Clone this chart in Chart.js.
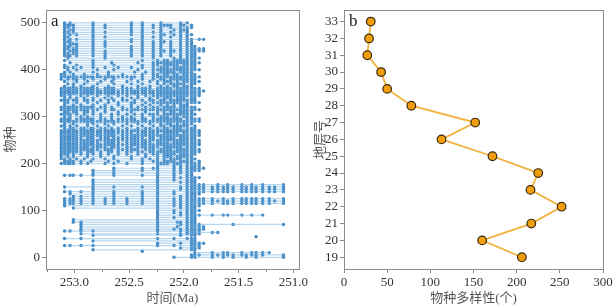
<!DOCTYPE html>
<html>
<head>
<meta charset="utf-8">
<script src="https://cdn.jsdelivr.net/npm/chart.js@4.4.0/dist/chart.umd.min.js"></script>
<style>
    html, body { margin: 0; padding: 0; background: #fff; }
    #wrap { position: relative; width: 615px; height: 306px; }
    .panel { position: absolute; top: 0; }
    #pa { left: 0; }
    #pb { left: 310px; }
</style>
</head>
<body>
<div id="wrap">
    <div class="panel" id="pa"><canvas id="range-chart" width="310" height="306"></canvas></div>
    <div class="panel" id="pb"><canvas id="diversity-chart" width="305" height="306"></canvas></div>
</div>
<script>
"use strict";

//=> Panel a: sampled horizons (Ma, old -> young)
var horizons = [
    253.12, 253.09, 253.06, 253.04, 253.01, 252.98, 252.94, 252.91, 252.88, 252.85,
    252.83, 252.79, 252.76, 252.72, 252.69, 252.66, 252.64, 252.60, 252.56, 252.52,
    252.48, 252.45, 252.42, 252.38, 252.35, 252.31, 252.28, 252.24, 252.21, 252.18,
    252.15, 252.12, 252.09, 252.06, 252.03, 252.00, 251.97, 251.93, 251.90, 251.86,
    251.82, 251.74, 251.69, 251.64, 251.60, 251.55, 251.47, 251.43, 251.38, 251.34,
    251.28, 251.22, 251.17, 251.09
];

//=> Panel a: species number of each row
var speciesRows = [
    0, 5, 10, 13, 16, 20, 25, 30, 35, 40, 44, 47, 50, 53, 56, 60, 65, 70, 75, 80,
    85, 90, 95, 100, 105, 110, 115, 120, 125, 130, 135, 140, 145, 150, 155, 160, 165, 170, 175, 180,
    185, 190, 195, 200, 205, 210, 215, 220, 225, 230, 235, 240, 245, 250, 255, 260, 265, 270, 275, 280,
    285, 290, 295, 300, 305, 310, 315, 320, 325, 330, 335, 340, 345, 350, 355, 360, 365, 370, 375, 380,
    385, 390, 395, 400, 405, 410, 415, 420, 425, 430, 435, 440, 445, 450, 455, 460, 465, 470, 475, 480,
    485, 490, 495, 500
];

//=> Panel a: occurrence of each row at each horizon (x = found)
var occurrences = [
    ".......... .......... .......... ..x....xx. .x.x.x.x.x ...x",
    ".......... .......... .......... .......xxx .xxxxxxxxx x..x",
    ".......... .......... .......... ........x. .x.xx.x.xx xx..",
    ".......... .......... ...x...... .......... .......... ....",
    ".......... x......... .......... .......xx. .......... ....",
    ".......... .......... .......... ....x..xxx .......... ....",
    ".x.x..x... x......... .......x.. ..x....xxx .......... ....",
    ".......... .......... .......x.. ....x..xxx x......... ....",
    ".......... x......... .......... .......xx. .......... ....",
    ".x....x... .......... .......x.. ..x...xxx. .......... ....",
    ".......... .......... .......... .......... .........x ....",
    ".......... x......... .......... ....x..xx. .......... ....",
    "......x... .......... .......x.. ....x.xxxx .......... ....",
    ".......... .......... .......... ......xxx. .xx....... ....",
    ".x.x..x... x......... .......x.. ....x.xxxx .......... ....",
    "......x... .......... .......x.. ..x.x.xxxx x......... ....",
    "......x... .......... .......x.. ...x..xxxx x......... ....",
    "......x... .......... .......x.. ....x.xxxx .....x.... ...x",
    "....x.x... .......... .......x.. ...xx.xxx. .......... ....",
    "....x..... .......... .......x.. ......xxx. .......... ....",
    ".......... .......... .......x.. ..x...xxx. .......... ....",
    ".......... .......... .......x.. ....x.xxxx .x.xx.x.x. x...",
    ".......... .......... .......x.. ..x.x.xxx. .......... ....",
    ".......... .......... .......x.. ..x...xxxx .......... ....",
    "....x..... .......... .......x.. ....x.xxx. .......... ....",
    ".x........ .......... .......x.. ..x.x.xxxx .......... ....",
    ".x.xx.x... x..x..x..x ...x...x.. ..x.x.xxxx xx.xxxxxxx xx.x",
    ".x.xx.x... x..x..x..x ...x...x.. ..x.x.xxxx xxxxxxxxxx xxxx",
    ".x.xx.x... x..x..x..x ...x...x.. ..x.x.xxxx xx.x.xxxxx xx.x",
    "....x.x... x.....x... ...x...x.. ....x.xxx. .......... ....",
    "...x...... x.....x... ...x...x.. ..x...xxxx .......... ....",
    ".x.x..x... x.....x... ...x...x.. ..x...xxxx xxxxxxxxxx xxxx",
    ".......... x......... .......x.. ....x.xxxx xxxxxxxxxx xxxx",
    ".x........ x.....x... ...x...x.. ....x.xxxx xxxxxxxxxx xxxx",
    ".......... x......... .......x.. ......xxxx x.x.x.x.x. x..x",
    ".......... x......... .......x.. ....x.xxx. .......... ....",
    ".......... x......... .......x.. ..x...xxx. .......... ....",
    ".......... .......... .......x.. ..x.x.xxxx .......... ....",
    ".x.xx.x... x.....x... ...x...x.. ..x...xx.. .......... ....",
    ".......... x.....x... .......x.. ..x.x.xx.. .......... ....",
    ".......... x.....x... ...x...x.. ..x.x.xxxx .......... ....",
    ".......... ......x... ...x..xx.. ..x.x.xxxx x......... ....",
    ".......... .......... .......x.. ..x.x.xxxx .......... ....",
    "xxxxx.x.x. ...x..x..x ...x...xxx x.xxx.xxxx .......... ....",
    ".xxxx.x..x ....x..x.. ...x..xx.x xxx.xxxx.x .......... ....",
    "xx.x.x.x.. x..x..x... x..x.x.x.x .xxxx.xxx. .......... ....",
    "x.x.x...x. ..x...x... x...x..x.x xx.xxxxx.. .......... ....",
    "xxx.x.x.x. x.x.x..x.x ..x.x.xx.x xxx.xxxxx. .......... ....",
    "xxxxxxx.xx x.x.xx.x.x x.xx.xxxxx xxxxxxxxxx .......... ....",
    "xxxxxxxxxx xx.xxx.xxx xxx.xxx.xx xx.xxxxxxx .......... ....",
    "xxxxxxxxx. xxxx.xxx.x x.xxxxxx.x xxxxx.xxx. .......... ....",
    "xxxxxxxxxx xxxxxxxxxx xxxxxxxxxx xxxxxxxxxx .......... ....",
    "xxxxxxxxxx xx.xxxxx.x xxxxxx.xxx x.xxxxxxxx .......... ....",
    "xxxxxxxxxx xxxxxxxxxx xxxxxxxxxx xxxxxxxxxx .......... ....",
    "xxxxxxx.xx x.xxx.xxxx xxxx.xx.xx xxx.xxxxx. .......... ....",
    "xxxxxxxxxx xxxxxxx.xx xxxxxxxxxx xxxxxxxxxx .......... ....",
    "xxxxxxxxxx xxxxxxxxxx x.xxxxxx.x xxxx.xxxxx .......... ....",
    "xxxxxxxxxx xxxxxxxxxx xxxxxxxxxx xxxxxxxxxx .......... ....",
    ".x.xx.xx.x x.xx.x.x.x ..x.xx.x.x x.xxx.xxx. .......... ....",
    "xx.x.x..x. .x..x...x. x..x..x.xx .xxxxxx.x. .......... ....",
    ".x..x...x. x..x..x..x ..x..x..x. xx.x.xxx.. .......... ....",
    "xxxxxxxxxx xxxxxxxxxx xxxxxxxxxx xxxxxxxxxx .......... ....",
    "xxxx.xxxxx x.xx.x.xxx xx.xx.xxxx xxxxx.xxxx .......... ....",
    ".x.x..x.x. ..x..x..x. x..x..x.xx x.xx.xxx.. .......... ....",
    "xxxx.x.x.. x.x..x.x.x .x.x.xxx.x xxxxxxxxx. .......... ....",
    ".xx.xx.xx. x..x...x.. x...x..x.x .xx.xxxx.. .......... ....",
    "xxxxxxxxx. xx.x.xx.xx xxxxxxxxxx xxxxxxxxxx .......... ....",
    "xxxxxxxxxx x.xx.x..x. x.x.x.xx.x xxx.xxxxx. .......... ....",
    ".x..x.x... x..x...x.. x..x.x..x. x.x.xxx... .......... ....",
    ".xx..x..x. .x..x..x.. xx..x.xxxx xxxxx.xxxx .......... ....",
    "xxx.xx.xx. x.x.x.x.xx .x.x.xx.xx .xxxxxxxx. .......... ....",
    ".x.x.x.x.. x..x.x..x. x.x..x.x.x xx.xxx.xx. .......... ....",
    "xx.x..x.x. .x..x..x.x ..x.x.xxxx xxxxxxxxxx .......... ....",
    "xxxxxxxxxx xxxxxxxxxx xxxxxxxxxx xxxxxxxxxx .......... ....",
    "xxxxxxxxxx xxxxxxxxxx xxxxxxxxxx xxxxxxxxxx x......... ....",
    "xxxxxxxxxx xx.xxxx.xx x.xxxx.xxx xx.xxxxxxx .......... ....",
    ".x..x.x... x...x...x. ..x..x..x. x.xx.xxx.. .......... ....",
    "..x.x..x.. .x....x... x..x...x.x .xxxxx.xx. .......... ....",
    ".x...x..x. ..x..x...x ..x..x.x.x xx.x.xxxxx .......... ....",
    "x.x.xx.x.. x..x..x... x..x..x.xx .xxxxxxxx. .......... ....",
    "xxxxxxxxxx xxxxxxxxxx xx.x..xxxx xxxxxxxxxx .......... ....",
    "xx..x..x.. .x..x...x. ...x..xx.x x.xx.xxxx. .......... ....",
    ".x.x...... x...x..... .x..x.x.xx xxx.xxxx.. .......... ....",
    "..x..x.... .x....x... ..x...xxxx xxxxxxxxxx .......... ....",
    ".xx.x.x... x..x...x.. x..x..x.xx x.xxxxxxx. .......... ....",
    ".x...x.... x.....x... ...x..xx.x xxxx.xxxx. .......... ....",
    "...x...... x....x.... ..x...xxxx xxxxxxxxxx .......... ....",
    ".x........ x......... ...x...x.x x.xxxxxxx. .......... ....",
    "..x....... ...x...... ......x... ..x.x.xxxx .......... ....",
    ".xxx.x.... x..x...... x..x..x.x. .x..x.xxx. .......... ....",
    ".xx.xx.... x..x...... x..x..x.x. .x..x.xxx. .......... ....",
    ".x.xxx.... x..x...... x..x..x.xx .xx.x.xxxx x......... ....",
    ".xx.xx.... x......... x..x..x.x. .x..x.xxxx x......... ....",
    ".xxx.x.... x..x...... x..x..x.x. .x..x.xxx. .......... ....",
    ".x.xxx.... x..x...... ...x..x.x. .x..x.xx.. .......... ....",
    ".xxx...... x..x...... x..x..x.xx .x..x.xx.. .......... ....",
    ".x.x.x.... x......... x..x....x. ....x.xx.x x......... ....",
    ".xx....... x..x...... ...x..x.x. .x..x.x... .......... ....",
    ".x.x.x.... x......... x..x....xx ..x.x.xx.. .......... ....",
    ".xx.x..... x..x...... x..x..x.x. .x..x.x... .......... ....",
    ".x.xx..... x......... x..x....x. ..x.xxx... .......... ....",
    ".xx.x..... x..x...... x..x..x.x. .x..x.xx.. .......... ....",
    ".xxxx..... x..x...... x..x..x.xx xx..xx.x.. .......... ....",
    ".x.x...... x......... x..x....x. ....x.x... .......... ...."
];
var timeTicks = [253.0, 252.5, 252.0, 251.5, 251.0];
var timeMinorTicks = [253.25, 252.75, 252.25, 251.75, 251.25];
var speciesTicks = [0, 100, 200, 300, 400, 500];

//=> Panel b: species diversity per layer
var layers = [33, 32, 31, 30, 29, 28, 27, 26, 25, 24, 23, 22, 21, 20, 19];
var diversity = [31, 29, 27, 43, 50, 78, 152, 113, 172, 225, 216, 252, 217, 160, 206];
var diversityTicks = [0, 50, 100, 150, 200, 250, 300];
var layerTicks = [19, 20, 21, 22, 23, 24, 25, 26, 27, 28, 29, 30, 31, 32, 33];

var serif = "'Liberation Serif', 'Noto Sans CJK SC', serif";
var tickFont = { family: serif, size: 13 };
var titleFont = { family: serif, size: 13 };

//=> Box round the plot, minor ticks and the panel letter
var framePlugin = {
    id: 'frame',
    afterDraw: function (chart, args, opts) {
        var a = chart.chartArea, ctx = chart.ctx;
        ctx.save();
        ctx.strokeStyle = '#8c8c8c';
        ctx.lineWidth = 1;
        ctx.strokeRect(Math.round(a.left) + 0.5, Math.round(a.top) + 0.5,
            Math.round(a.right - a.left), Math.round(a.bottom - a.top));
        (opts.minor || []).forEach(function (v) {
            var px = Math.round(chart.scales.x.getPixelForValue(v)) + 0.5;
            ctx.beginPath();
            ctx.moveTo(px, Math.round(a.bottom));
            ctx.lineTo(px, Math.round(a.bottom) + 3);
            ctx.stroke();
        });
        ctx.fillStyle = '#222';
        ctx.font = "17px 'Liberation Serif'";
        ctx.textBaseline = 'top';
        ctx.fillText(opts.label, a.left + 5, a.top + 3);
        ctx.restore();
    }
};

function axis(min, max, ticks, size, isX, title, extra) {
    var o = {
        type: 'linear',
        min: min,
        max: max,
        afterBuildTicks: function (s) {
            s.ticks = ticks.map(function (v) { return { value: v }; });
        },
        afterFit: function (s) {
            if (isX) { s.height = size; } else { s.width = size; }
        },
        grid: { display: true, drawOnChartArea: false, drawTicks: true, tickLength: 4, color: '#8c8c8c' },
        border: { display: false },
        ticks: { font: tickFont, color: '#333', padding: 2, maxRotation: 0, autoSkip: false },
        title: { display: true, text: title, font: titleFont, color: '#555',
                 padding: isX ? 0 : { top: 3, bottom: 0 } }
    };
    for (var k in extra) { o[k] = extra[k]; }
    return o;
}

//=> Panel a data
var rangePoints = [];
var dotPoints = [];
speciesRows.forEach(function (sp, r) {
    var mask = occurrences[r].replace(/ /g, '');
    var first = -1, last = -1;
    for (var i = 0; i < horizons.length; i++) {
        if (mask.charAt(i) === 'x') {
            dotPoints.push({ x: horizons[i], y: sp });
            if (first < 0) { first = i; }
            last = i;
        }
    }
    if (first >= 0 && last > first) {
        rangePoints.push({ x: horizons[first], y: sp });
        rangePoints.push({ x: horizons[last], y: sp });
        rangePoints.push({ x: horizons[last], y: null });
    }
});

var xa = axis(250.95, 253.26, timeTicks, 37, true, '时间(Ma)', { reverse: true });
xa.ticks.callback = function (v) { return v.toFixed(1); };

new Chart(document.getElementById('range-chart').getContext('2d'), {
    type: 'scatter',
    data: {
        datasets: [{
            data: rangePoints,
            showLine: true,
            spanGaps: false,
            borderColor: 'rgba(120,180,225,0.55)',
            borderWidth: 1.2,
            pointRadius: 0
        }, {
            data: dotPoints,
            pointRadius: 1.7,
            pointBackgroundColor: '#3f87c3',
            pointBorderWidth: 0
        }]
    },
    options: {
        responsive: false,
        animation: false,
        layout: { padding: { left: 0, right: 4, top: 6, bottom: 0 } },
        plugins: { legend: { display: false }, tooltip: { enabled: false },
                   frame: { label: 'a', minor: timeMinorTicks } },
        scales: {
            x: xa,
            y: axis(-25, 528, speciesTicks, 46, false, '物种', {})
        }
    },
    plugins: [framePlugin]
});

//=> Panel b
new Chart(document.getElementById('diversity-chart').getContext('2d'), {
    type: 'scatter',
    data: {
        datasets: [{
            data: layers.map(function (l, i) { return { x: diversity[i], y: l }; }),
            showLine: true,
            borderColor: '#f0b23c',
            borderWidth: 1.8,
            pointRadius: 4.3,
            pointBackgroundColor: '#f29e0c',
            pointBorderColor: '#3a2a10',
            pointBorderWidth: 1.2
        }]
    },
    options: {
        responsive: false,
        animation: false,
        clip: false,
        layout: { padding: { left: 0, right: 12, top: 6, bottom: 0 } },
        plugins: { legend: { display: false }, tooltip: { enabled: false }, frame: { label: 'b' } },
        scales: {
            x: axis(0, 300, diversityTicks, 37, true, '物种多样性(个)', {}),
            y: axis(18.3, 33.7, layerTicks, 34, false, '地层号', {})
        }
    },
    plugins: [framePlugin]
});
</script>
</body>
</html>
